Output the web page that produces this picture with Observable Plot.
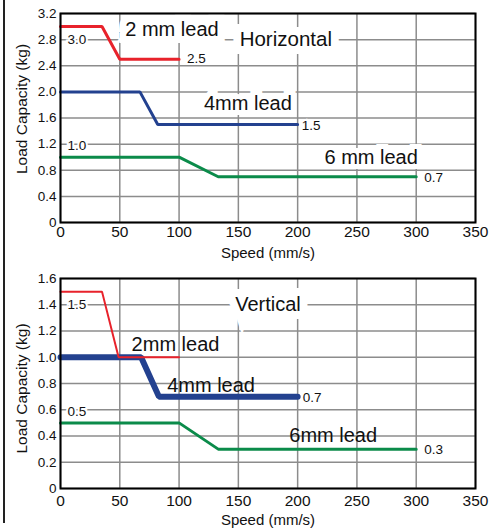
<!DOCTYPE html>
<html><head><meta charset="utf-8">
<script src="https://cdn.jsdelivr.net/npm/d3@7"></script>
<script src="https://cdn.jsdelivr.net/npm/@observablehq/plot@0.6"></script>
<style>
body{margin:0;background:#fff;}
#wrap{position:relative;width:499px;height:529px;overflow:hidden;background:#fff;}
#border{position:absolute;left:3px;top:0;width:1.5px;height:523px;background:#222;}
#wrap svg{display:block;}
</style></head><body>
<div id="wrap"><div id="border"></div><div id="topPanel"></div><div id="bottomPanel"></div></div>
<script>
// ---- data ----
const speedTicks = [0, 50, 100, 150, 200, 250, 300, 350];
const hLoadTicks = [0, 0.4, 0.8, 1.2, 1.6, 2.0, 2.4, 2.8, 3.2];
const vLoadTicks = [0, 0.2, 0.4, 0.6, 0.8, 1.0, 1.2, 1.4, 1.6];

const hSpeed2mm = [0, 35, 50, 100],  hLoad2mm = [3.0, 3.0, 2.5, 2.5];
const hSpeed4mm = [0, 67, 82, 200],  hLoad4mm = [2.0, 2.0, 1.5, 1.5];
const hSpeed6mm = [0, 100, 133, 300], hLoad6mm = [1.0, 1.0, 0.7, 0.7];

const vSpeed2mm = [0, 35, 49, 100],  vLoad2mm = [1.5, 1.5, 1.0, 1.0];
const vSpeed4mm = [0, 68, 83, 200],  vLoad4mm = [1.0, 1.0, 0.7, 0.7];
const vSpeed6mm = [0, 100, 133, 300], vLoad6mm = [0.5, 0.5, 0.3, 0.3];

const hLeadNames = ["2 mm lead", "4mm lead", "6 mm lead"];
const vLeadNames = ["2mm lead", "4mm lead", "6mm lead"];
const panelTitles = ["Horizontal", "Vertical"];
const xLabel = "Speed (mm/s)";
const yLabel = "Load Capacity (kg)";

const RED = "#e8222b", BLUE = "#23418f", GREEN = "#0b8b4a";
const SANS = "'Liberation Sans',Arial,Helvetica,sans-serif";

const pts = (xs, ys) => xs.map((x, i) => ({x, y: ys[i]}));
const fmt = d => d === 0 ? "0" : d.toFixed(1);
const last = a => a[a.length - 1];

function panel({ticks, yMax, lines, notes, height, marginTop, marginBottom, xTickPad, xLabelDy, yLabelDy}) {
  const marks = [
    Plot.gridX(speedTicks, {stroke: "#8c8c8c", strokeOpacity: 1, strokeWidth: 1.5}),
    Plot.gridY(ticks, {stroke: "#8c8c8c", strokeOpacity: 1, strokeWidth: 1.5}),
    Plot.axisX(speedTicks, {tickSize: 0, tickPadding: xTickPad, fontSize: 15.5, fontFamily: SANS, label: null, fill: "#111"}),
    Plot.axisY(ticks, {tickSize: 0, tickPadding: 4, fontSize: 13.5, fontFamily: SANS, tickFormat: fmt, label: null, fill: "#111"}),
    Plot.text([xLabel], {frameAnchor: "bottom", dy: xLabelDy, fontSize: 15, fontFamily: SANS, fill: "#111"}),
    Plot.text([yLabel], {frameAnchor: "left", textAnchor: "middle", rotate: -90, dx: -38, dy: yLabelDy, fontSize: 15.5, fontFamily: SANS, fill: "#111"}),
    ...notes.map(n => Plot.text([n], {
      x: "x", y: "y", text: "t", fontSize: n.size, fontFamily: SANS,
      textAnchor: n.anchor || "middle", dx: n.dx || 0, dy: n.dy || 0, fill: "#111",
      stroke: n.halo ? "white" : null, strokeWidth: n.halo || 0, paintOrder: "stroke", strokeLinejoin: "miter"
    })),
    ...lines.map(l => Plot.line(pts(l.x, l.y), {x: "x", y: "y", stroke: l.color, strokeWidth: l.w, strokeLinejoin: "miter"})),
    Plot.frame({stroke: "#000", strokeWidth: 2})
  ];
  return Plot.plot({
    width: 499, height, marginTop, marginBottom, marginLeft: 60, marginRight: 24,
    x: {domain: [0, 350]}, y: {domain: [0, yMax]},
    style: {background: "transparent", overflow: "visible"},
    marks
  });
}

const note = (t, x, y, o = {}) => Object.assign({t, x, y, size: 20}, o);
const val = (t, x, y, o = {}) => Object.assign({t, x, y, size: 13.5, anchor: "start", halo: 4}, o);

const topChart = panel({
  ticks: hLoadTicks, yMax: 3.2, height: 262, marginTop: 13, marginBottom: 40,
  xTickPad: 3, xLabelDy: 35, yLabelDy: -9,
  lines: [
    {x: hSpeed2mm, y: hLoad2mm, color: RED, w: 3},
    {x: hSpeed4mm, y: hLoad4mm, color: BLUE, w: 3},
    {x: hSpeed6mm, y: hLoad6mm, color: GREEN, w: 3}
  ],
  notes: [
    note(hLeadNames[0], 94, 2.95, {halo: 14}),
    note(panelTitles[0], 190, 2.8, {halo: 16, size: 20.5}),
    note(hLeadNames[1], 158, 1.82, {halo: 10}),
    note(hLeadNames[2], 262, 1.0, {halo: 10}),
    val(fmt(hLoad2mm[0]), 0, hLoad2mm[0], {dx: 7, dy: 13}),
    val(fmt(last(hLoad2mm)), last(hSpeed2mm), last(hLoad2mm), {dx: 8, dy: -1}),
    val(fmt(last(hLoad4mm)), last(hSpeed4mm), last(hLoad4mm), {dx: 4, dy: 1}),
    val(fmt(hLoad6mm[0]), 0, hLoad6mm[0], {dx: 7, dy: -12}),
    val(fmt(last(hLoad6mm)), last(hSpeed6mm), last(hLoad6mm), {dx: 8, dy: 1})
  ]
});

const bottomChart = panel({
  ticks: vLoadTicks, yMax: 1.6, height: 267, marginTop: 16, marginBottom: 41,
  xTickPad: 6, xLabelDy: 36, yLabelDy: 5,
  lines: [
    {x: vSpeed6mm, y: vLoad6mm, color: GREEN, w: 3},
    {x: vSpeed4mm, y: vLoad4mm, color: BLUE, w: 6},
    {x: vSpeed2mm, y: vLoad2mm, color: RED, w: 2}
  ],
  notes: [
    note(vLeadNames[0], 97, 1.1, {halo: 0}),
    note(panelTitles[1], 175, 1.4, {halo: 16}),
    note(vLeadNames[1], 127, 0.785, {halo: 0}),
    note(vLeadNames[2], 230, 0.4, {halo: 0}),
    val(fmt(vLoad2mm[0]), 0, vLoad2mm[0], {dx: 7, dy: 13}),
    val(fmt(last(vLoad4mm)), last(vSpeed4mm), last(vLoad4mm), {dx: 5, dy: 1}),
    val(fmt(vLoad6mm[0]), 0, vLoad6mm[0], {dx: 7, dy: -11}),
    val(fmt(last(vLoad6mm)), last(vSpeed6mm), last(vLoad6mm), {dx: 8, dy: 1})
  ]
});

document.getElementById("topPanel").appendChild(topChart);
document.getElementById("bottomPanel").appendChild(bottomChart);
</script>
</body></html>
